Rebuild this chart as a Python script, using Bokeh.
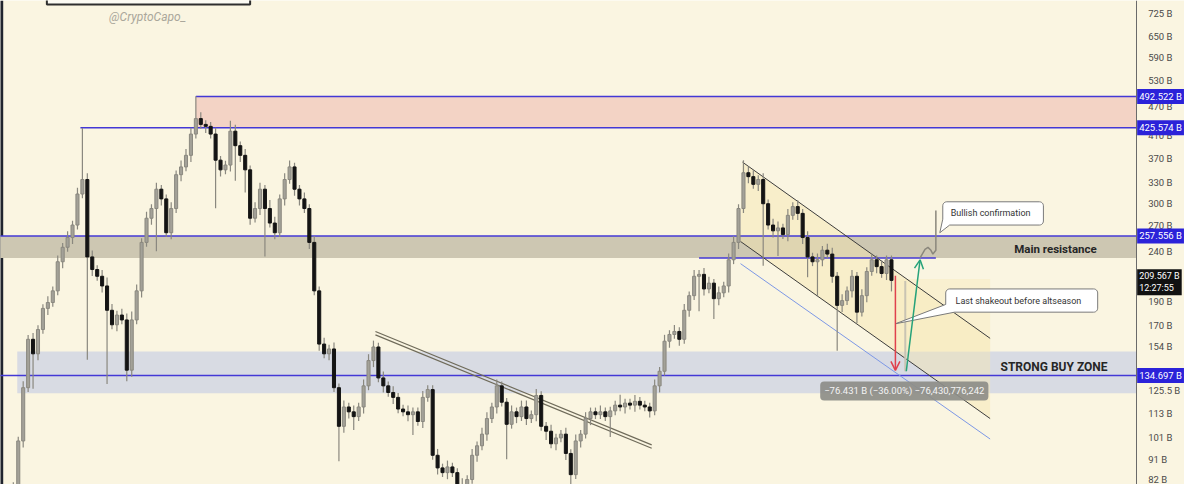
import math
from bokeh.plotting import figure
from bokeh.models import (Range1d, FixedTicker, CustomJSTickFormatter, Label,
                          Arrow, OpenHead, ColumnDataSource, LogAxis)
from bokeh.core.properties import value
from bokeh.embed import file_html
from bokeh.resources import INLINE

# ---------------- data (market cap, billions) ----------------
closes = [
    81.2, 99.4, 127.3, 159.4, 149.0, 166.8, 184.0, 189.1, 199.6, 228.5,
    244.4, 255.7, 271.0, 313.0, 334.8, 233.7, 220.4, 213.6, 204.2, 182.4,
    170.5, 178.4, 174.4, 138.1, 174.4, 199.6, 250.0, 279.7, 292.6, 320.1,
    306.0, 261.5, 292.6, 342.4, 355.0, 374.6, 413.5, 444.3, 432.5, 428.6,
    413.5, 366.3, 350.2, 358.1, 419.1, 391.8, 374.6, 350.2, 279.7, 292.6,
    320.1, 292.6, 273.5, 261.5, 306.0, 334.8, 355.0, 320.1, 306.0, 292.6,
    250.0, 199.6, 155.9, 149.0, 152.4, 127.3, 106.4, 116.4, 113.8, 111.3,
    116.4, 128.4, 144.4, 153.8, 133.2, 128.4, 124.5, 121.7, 115.3, 113.8,
    112.3, 113.8, 108.8, 121.7, 126.2, 93.0, 87.7, 85.8, 88.1, 85.8,
    81.2, 77.7, 83.1, 93.0, 97.2, 102.6, 110.3, 116.4, 128.4, 119.0,
    107.4, 113.8, 111.3, 116.4, 110.3, 112.3, 122.8, 106.4, 104.0, 98.1,
    100.8, 102.6, 93.8, 85.0, 99.4, 102.6, 110.3, 113.8, 112.3, 113.8,
    111.3, 114.3, 117.4, 116.4, 118.5, 117.4, 119.5, 117.4, 116.4, 114.3,
    128.4, 137.4, 158.0, 163.0, 165.3, 159.4, 182.4, 195.2, 213.6, 215.5,
    201.4, 206.9, 192.5, 197.8, 204.2, 230.6, 250.0, 292.6, 345.5, 339.3,
    327.4, 334.8, 299.2, 271.0, 263.8, 267.4, 259.2, 283.5, 295.2, 286.1,
    255.7, 233.7, 228.5, 230.6, 241.1, 236.8, 213.6, 186.6, 190.8, 199.6,
    213.6, 180.8, 195.2, 218.4, 230.6, 223.4, 216.4, 230.6, 209.567,
]
first_open = 78.0
upper_wick_pct = [
    1, 2, 3, 2, 3, 2, 2, 3, 2, 3,
    2, 3, 2, 3, 27, 3, 3, 2, 3, 4,
    3, 2, 3, 3, 4, 3, 2, 3, 2, 3,
    2, 2, 3, 2, 3, 3, 3, 11, 3, 2,
    2, 3, 2, 2, 5, 3, 2, 3, 2, 3,
    3, 2, 4, 3, 2, 3, 3, 2, 2, 3,
    2, 3, 2, 3, 2, 3, 2, 3, 2, 3,
    2, 3, 3, 3, 2, 3, 2, 3, 2, 2,
    3, 2, 2, 3, 2, 2, 3, 2, 3, 2,
    2, 3, 2, 3, 2, 3, 3, 2, 3, 2,
    2, 3, 2, 3, 3, 2, 3, 2, 2, 3,
    2, 2, 3, 2, 3, 2, 3, 2, 2, 3,
    2, 2, 2, 5, 2, 2, 3, 2, 2, 2,
    3, 2, 3, 2, 3, 2, 3, 2, 3, 2,
    3, 3, 2, 3, 2, 3, 3, 2, 6, 3,
    3, 2, 3, 2, 3, 3, 2, 3, 2, 3,
    2, 3, 2, 3, 2, 3, 3, 2, 3, 2,
    3, 2, 3, 2, 3, 2, 3, 2, 2,
]
lower_wick_pct = [
    1, 2, 3, 2, 15, 3, 2, 3, 2, 2,
    3, 2, 3, 2, 2, 38, 3, 2, 3, 29,
    2, 3, 2, 5, 3, 2, 3, 2, 3, 18,
    3, 2, 3, 2, 3, 2, 3, 2, 2, 3,
    2, 20, 3, 2, 3, 15, 3, 10, 3, 2,
    3, 20, 2, 3, 2, 3, 2, 3, 3, 2,
    3, 2, 3, 2, 3, 2, 15, 3, 3, 6,
    2, 3, 2, 3, 2, 3, 2, 3, 2, 2,
    3, 9, 2, 3, 2, 2, 3, 2, 3, 2,
    2, 2, 3, 2, 3, 2, 3, 2, 3, 2,
    15, 2, 3, 2, 3, 2, 3, 2, 4, 2,
    3, 2, 3, 5, 2, 3, 2, 3, 2, 2,
    2, 9, 2, 2, 3, 2, 3, 2, 2, 3,
    2, 3, 2, 3, 2, 3, 2, 3, 2, 15,
    3, 2, 9, 3, 2, 3, 2, 3, 2, 3,
    2, 3, 25, 2, 3, 11, 2, 3, 2, 3,
    3, 9, 2, 15, 3, 2, 3, 19, 3, 2,
    3, 5, 2, 3, 2, 3, 2, 3, 5,
]

tick_values = [82, 91, 101, 113, 125.5, 154, 170, 190, 240, 270, 300, 330, 370,
               410, 470, 530, 590, 650, 725]
key_levels = [492.522, 425.574, 257.556, 134.697]
key_level_labels = ["492.522 B", "425.574 B", "257.556 B", "134.697 B"]
key_level_start = [37.0, 13.6, -3.0, -3.0]
last_price_label = "209.567 B\n12:27:55"
last_price_label_y = 207.8

supply_zone = (37.0, 425.574, 492.522)       # x start, bottom, top
resistance_zone = (-3.0, 232.6, 257.556)
buy_zone = (0.8, 124.1, 150.6)
channel_upper = ([147.8, 198.0], [363.0, 160.1])
channel_lower = ([147.4, 198.0], [251.1, 110.3])
channel_outer = ([147.4, 198.0], [226.5, 100.3])
trendline_a = ([73.4, 129.4], [165.3, 97.6])
trendline_b = ([73.4, 129.4], [162.7, 96.1])
channel_top_level = ([139.0, 187.0], [232.6, 232.6])
range_box = (178.8, 198.0, 150.6, 211.0)
range_line = ([180.8, 180.8], [209.0, 137.4])
drop_arrow = (178.8, 214.2, 178.8, 138.0)
rise_arrow = (181.0, 137.4, 183.8, 230.6)
path_x = [183.8, 184.8, 185.4, 186.0, 186.4, 187.0, 187.0]
path_y = [232.6, 242.1, 244.3, 241.0, 236.8, 241.0, 289.9]
range_text = "\u221276.431 B (\u221236.00%) \u221276,430,776,242"
range_text_pos = (180.6, 125.4)
title_box = (6.8, 48.0, 755.0)

# ---------------- styling ----------------
BG = "#faf5e1"
BLUE_LINE = "#4338d6"
BLUE_BOX = "#2b22d9"
FONT = "Roboto"

x_lo, x_hi = -2.6, 237.4
y_lo, y_hi = 81.2, 769.0
x_axis_at = 227.6
fw, fh = 1184, 484

p = figure(frame_width=fw, frame_height=fh,
           x_range=Range1d(x_lo, x_hi), y_range=Range1d(y_lo, y_hi),
           y_axis_type="log", y_axis_location=None, x_axis_location=None,
           output_backend="svg", toolbar_location=None,
           min_border_left=0, min_border_top=0, min_border_bottom=0,
           min_border_right=0,
           background_fill_color=BG, border_fill_color=BG,
           outline_line_color=None)
p.grid.visible = False

ax = LogAxis(fixed_location=x_axis_at)
ax.ticker = FixedTicker(ticks=tick_values)
ax.formatter = CustomJSTickFormatter(code="return tick + ' B';")
ax.major_tick_line_color = None
ax.minor_tick_line_color = None
ax.axis_line_color = "#6a6a6a"
ax.major_label_text_font = FONT
ax.major_label_text_font_size = "9.5px"
ax.major_label_text_color = "#4a4a4a"
ax.major_label_standoff = 6
p.add_layout(ax, "right")

RIGHT = x_axis_at

# left screen edge and cut-off title box
p.quad(left=[x_lo - 1], right=[-2.05], bottom=[y_lo], top=[y_hi], fill_color="#20242e", line_color=None)
p.quad(left=[title_box[0]], right=[title_box[1]], bottom=[title_box[2]], top=[900.0],
       fill_color="#fbfaf3", line_color="#2e2e2e", line_width=2)

# zones
p.quad(left=[supply_zone[0]], right=[RIGHT], bottom=[supply_zone[1]], top=[supply_zone[2]],
       fill_color="#f3d3c5", line_color=None)
p.quad(left=[resistance_zone[0]], right=[RIGHT], bottom=[resistance_zone[1]], top=[resistance_zone[2]],
       fill_color="#cdc7b2", line_color=None)
p.quad(left=[buy_zone[0]], right=[RIGHT], bottom=[buy_zone[1]], top=[buy_zone[2]],
       fill_color="#d8dbe3", line_color=None)

# channel fill and range box
p.patch(x=channel_upper[0] + channel_lower[0][::-1],
        y=channel_upper[1] + channel_lower[1][::-1],
        fill_color="#f6e7b0", fill_alpha=0.45, line_color=None)
p.quad(left=[range_box[0]], right=[range_box[1]], bottom=[range_box[2]], top=[range_box[3]],
       fill_color="#f8ecbf", fill_alpha=0.5, line_color=None)

# key horizontal levels
p.segment(x0=key_level_start, y0=key_levels, x1=[RIGHT] * len(key_levels), y1=key_levels,
          line_color=BLUE_LINE, line_width=1.5)
p.line(channel_top_level[0], channel_top_level[1], line_color=BLUE_LINE, line_width=1.5)

# trendlines
p.line(trendline_a[0], trendline_a[1], line_color="#6f6b5a", line_width=1.2)
p.line(trendline_b[0], trendline_b[1], line_color="#6f6b5a", line_width=1.2)
p.line(channel_upper[0], channel_upper[1], line_color="#3c3c3c", line_width=1)
p.line(channel_lower[0], channel_lower[1], line_color="#3c3c3c", line_width=1)
p.line(channel_outer[0], channel_outer[1], line_color="#7d98e6", line_width=1)

# candles
n = len(closes)
idx = list(range(n))
opens = [first_open] + closes[:-1]
tops = [max(o, c) for o, c in zip(opens, closes)]
bots = [min(o, c) for o, c in zip(opens, closes)]
highs = [t * (1 + u / 100.0) for t, u in zip(tops, upper_wick_pct)]
lows = [b * (1 - l / 100.0) for b, l in zip(bots, lower_wick_pct)]
src = ColumnDataSource(dict(x=idx, top=tops, bot=bots, high=highs, low=lows))
p.segment(x0="x", y0="low", x1="x", y1="high", source=src, line_color="#8a887f", line_width=1.2)
up_i = [i for i in idx if closes[i] >= opens[i]]
dn_i = [i for i in idx if closes[i] < opens[i]]
p.vbar(x=up_i, width=0.62, top=[tops[i] for i in up_i], bottom=[bots[i] for i in up_i],
       fill_color="#a3a198", line_color="#8a887f")
p.vbar(x=dn_i, width=0.62, top=[tops[i] for i in dn_i], bottom=[bots[i] for i in dn_i],
       fill_color="#141414", line_color="#141414")

# price range vertical line
p.line(range_line[0], range_line[1], line_color="#c9c4b3", line_width=2)

# bullish path
p.line(path_x, path_y, line_color="#8a877c", line_width=1.5)

# arrows
p.add_layout(Arrow(end=OpenHead(size=9, line_color="#e0414d", line_width=1.5),
                   x_start=drop_arrow[0], y_start=drop_arrow[1],
                   x_end=drop_arrow[2], y_end=drop_arrow[3],
                   line_color="#e0414d", line_width=1.5))
p.add_layout(Arrow(end=OpenHead(size=9, line_color="#26a27a", line_width=1.5),
                   x_start=rise_arrow[0], y_start=rise_arrow[1],
                   x_end=rise_arrow[2], y_end=rise_arrow[3],
                   line_color="#26a27a", line_width=1.5))

# callouts
k_per_px = (x_hi - x_lo) / fw
log_per_px = math.log(y_hi / y_lo) / fh


def callout(x0, x1, ytop, ybot, tail_bottom_x, tip, tail_left_y, r=4):
    rk = r * k_per_px
    rl = r * log_per_px
    f = math.exp(rl)

    def arc(cx, cy, a0, a1, m=6):
        out = []
        for i in range(m + 1):
            a = math.radians(a0 + (a1 - a0) * i / m)
            out.append((cx + rk * math.cos(a), cy * math.exp(rl * math.sin(a))))
        return out

    pts = (arc(x1 - rk, ytop / f, 90, 0) + arc(x1 - rk, ybot * f, 0, -90)
           + [(tail_bottom_x, ybot), tip, (x0, tail_left_y)]
           + arc(x0 + rk, ytop / f, 180, 90))
    p.patch([q[0] for q in pts], [q[1] for q in pts], fill_color="white",
            line_color="#7a7a7a", line_width=1)


callout(188.4, 208.8, 301.9, 271.0, 189.8, (187.8, 261.5), 278.5)
callout(189.0, 219.8, 201.4, 180.8, 190.8, (178.8, 171.3), 187.4)

p.text(x=[190.0], y=[286.1], text=["Bullish confirmation"], text_font=value(FONT),
       text_font_size="9px", text_color="#333333", text_baseline="middle")
p.text(x=[191.0], y=[190.8], text=["Last shakeout before altseason"], text_font=value(FONT),
       text_font_size="9px", text_color="#333333", text_baseline="middle")

p.text(x=[219.6], y=[242.1], text=["Main resistance"], text_font=value(FONT),
       text_font_size="11.5px", text_font_style="bold", text_color="#262626",
       text_align="right", text_baseline="middle")
p.text(x=[221.8], y=[139.9], text=["STRONG BUY ZONE"], text_font=value(FONT),
       text_font_size="12px", text_font_style="bold", text_color="#262626",
       text_align="right", text_baseline="middle")
p.text(x=[27.2], y=[712.0], text=["@CryptoCapo_"], text_font=value(FONT),
       text_font_size="12px", text_font_style="italic", text_color="#aaa79b",
       text_align="center", text_baseline="middle")

p.add_layout(Label(x=range_text_pos[0], y=range_text_pos[1], text=range_text,
                   text_align="center", text_baseline="middle", text_font=FONT,
                   text_font_size="9.5px", text_color="#f4f4f4",
                   background_fill_color="#8d8d88", background_fill_alpha=0.92,
                   padding=4, border_radius=4))

# axis price labels
for lv, lab in zip(key_levels, key_level_labels):
    p.add_layout(Label(x=x_axis_at, x_offset=1, y=lv, text=lab, text_align="left",
                       text_baseline="middle", text_font=FONT, text_font_size="9.5px",
                       text_color="white", background_fill_color=BLUE_BOX, padding=2))
p.add_layout(Label(x=x_axis_at, x_offset=1, y=last_price_label_y, text=last_price_label,
                   text_align="left", text_baseline="middle", text_font=FONT,
                   text_font_size="9px", text_color="white",
                   background_fill_color="#111111", padding=2))

open("out.html", "w").write(file_html(p, INLINE))
